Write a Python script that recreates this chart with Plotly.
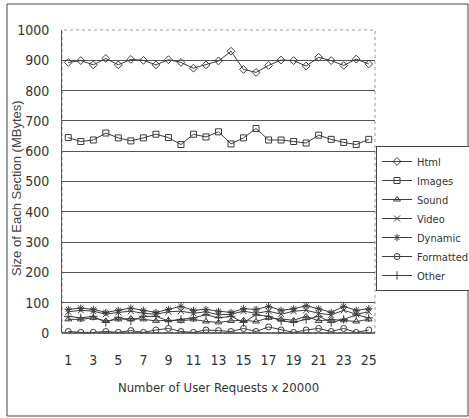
import plotly.graph_objects as go

requests = list(range(1, 26))
tick_labels = [str(i) for i in range(1, 26, 2)]

html = [893, 899, 885, 906, 885, 903, 900, 885, 902, 893, 874, 885, 898, 930, 870, 860, 883, 901, 899, 881, 910, 899, 883, 904, 888]
images = [645, 632, 637, 660, 644, 634, 644, 656, 645, 622, 656, 647, 664, 624, 644, 675, 637, 637, 632, 627, 653, 639, 629, 622, 639]
sound = [45, 45, 50, 40, 45, 48, 45, 40, 42, 40, 45, 38, 35, 40, 42, 38, 50, 45, 42, 55, 40, 45, 42, 38, 45]
video = [70, 75, 72, 62, 68, 72, 65, 62, 70, 72, 65, 70, 60, 62, 72, 65, 72, 62, 72, 75, 65, 60, 75, 62, 70]
dynamic = [78, 82, 78, 68, 75, 82, 75, 68, 78, 88, 75, 78, 72, 68, 80, 78, 88, 75, 80, 90, 80, 68, 88, 75, 80]
formatted = [5, 2, 2, 5, 2, 8, 2, 10, 15, 5, 2, 10, 8, 5, 15, 5, 20, 10, 2, 10, 15, 5, 15, 2, 10]
other = [55, 50, 55, 35, 52, 40, 55, 55, 40, 45, 50, 60, 50, 55, 35, 60, 55, 40, 35, 45, 55, 35, 45, 60, 50]

series = [
    ("Html", html, "diamond-open"),
    ("Images", images, "square-open"),
    ("Sound", sound, "triangle-up-open"),
    ("Video", video, "x-thin"),
    ("Dynamic", dynamic, "asterisk"),
    ("Formatted", formatted, "circle-open"),
    ("Other", other, "cross-thin"),
]

LINE = "#3a3a3a"
FONT = "Liberation Sans Narrow, DejaVu Sans Condensed, Arial Narrow, Liberation Sans, Arial"

fig = go.Figure()
for name, vals, sym in series:
    fig.add_trace(go.Scatter(
        x=requests, y=vals, name=name, mode="lines+markers",
        line=dict(color=LINE, width=1),
        marker=dict(symbol=sym, size=6, color=LINE, line=dict(color=LINE, width=1)),
    ))

W, H = 469, 418
L, R, T, B = 62, 375, 30, 333
pw, ph = R - L, B - T

def px(x):
    return (x - L) / pw

def py(y):
    return (B - y) / ph

fig.update_layout(
    width=W, height=H,
    margin=dict(l=L, r=W - R, t=T, b=H - B, autoexpand=False),
    paper_bgcolor="white", plot_bgcolor="white",
    font=dict(family=FONT, size=13, color="#333"),
    showlegend=True,
    legend=dict(
        x=px(376), y=py(146), xanchor="left", yanchor="top",
        bordercolor="#444", borderwidth=1, bgcolor="white",
        font=dict(family=FONT, size=11, color="#333"),
        tracegroupgap=0, itemwidth=30,
    ),
    xaxis=dict(
        range=[0.5, 25.5], tickmode="array",
        tickvals=list(range(1, 26, 2)), ticktext=tick_labels,
        showgrid=False, zeroline=False, showline=False,
        ticks="outside", ticklen=14, tickcolor="rgba(0,0,0,0)",
        tickfont=dict(family=FONT, size=14, color="#333"),
        title=dict(text="Number of User Requests x 20000",
                   font=dict(family=FONT, size=13, color="#333"), standoff=16),
    ),
    yaxis=dict(
        range=[0, 1000], dtick=100,
        showgrid=True, gridcolor="#555", gridwidth=1,
        zeroline=False, showline=True, linecolor="#555", linewidth=1,
        ticks="outside", ticklen=9, tickcolor="rgba(0,0,0,0)",
        tickfont=dict(family=FONT, size=14, color="#333"),
    ),
    annotations=[
        dict(text="Size of Each Section (MBytes)", xref="paper", yref="paper",
             x=px(16), y=py(188), textangle=-90, showarrow=False,
             xanchor="center", yanchor="middle",
             font=dict(family="Liberation Sans, Arial", size=13, color="#444")),
    ],
    shapes=[
        dict(type="rect", xref="paper", yref="paper", x0=0, x1=1, y0=0, y1=1,
             line=dict(color="#999", width=1, dash="dot"), layer="below"),
        dict(type="line", xref="paper", yref="paper", x0=0, x1=1, y0=0, y1=0,
             line=dict(color="#444", width=1.5)),
        dict(type="rect", xref="paper", yref="paper",
             x0=px(7), x1=px(468), y0=py(416), y1=py(4),
             line=dict(color="#444", width=1)),
    ],
)

fig.write_html("out.html", config={"displayModeBar": False},
               post_script="document.body.style.margin='0';")
